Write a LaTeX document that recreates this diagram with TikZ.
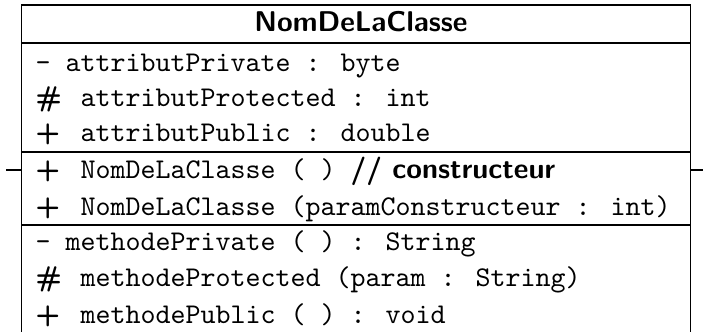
\documentclass[tikz,border=0pt]{standalone}
\usepackage{fontspec}
\def\kpriv{\makebox[10.5pt][l]{-}}
\def\kprot{\makebox[15.75pt][l]{\sffamily\bfseries\#}}
\def\kpub{\makebox[15.75pt][l]{\sffamily\bfseries+}}
\begin{document}
\begin{tikzpicture}[x=0.35pt,y=-0.35pt,
  membre/.style={anchor=base west,inner sep=0pt,font=\ttfamily},
  titre/.style={anchor=base,inner sep=0pt,font=\sffamily\bfseries},
  cadre/.style={line width=0.6pt}]
\useasboundingbox (0,0) rectangle (703,332);
\pgfmathsetmacro{\kleft}{21.5}
\pgfmathsetmacro{\kright}{690.5}
\pgfmathsetmacro{\ktop}{5.3}
\pgfmathsetmacro{\kpin}{15}
% cadre de la classe
\draw[cadre](\kleft,332)--(\kleft,\ktop)--(\kright,\ktop)--(\kright,332);
\foreach \ky in {42.7,152.3,225.3}{\draw[cadre](\kleft,\ky)--(\kright,\ky);}
\coordinate (pinL) at (\kleft-\kpin,170);
\coordinate (pinR) at (\kright+\kpin,170);
\draw[cadre](pinL)--(\kleft,170);
\draw[cadre](\kright,170)--(pinR);
% nom
\node[titre](nom) at (361,31.7){NomDeLaClasse};
% attributs
\foreach \ky/\ksym/\klb [count=\ki] in {71.5/\kpriv/{attributPrivate : byte},
  106.5/\kprot/{attributProtected : int},
  141.5/\kpub/{attributPublic : double}}{
  \node[membre](att\ki) at (35,\ky){\ksym\klb};}
% constructeurs
\node[membre](cons1) at (35,178){\kpub NomDeLaClasse ( ) \textsf{\bfseries// constructeur}};
\node[membre](cons2) at (35,215){\kpub NomDeLaClasse (paramConstructeur : int)};
% methodes
\foreach \ky/\ksym/\klb [count=\ki] in {250/\kpriv/{methodePrivate ( ) : String},
  286.5/\kprot/{methodeProtected (param : String)},
  323/\kpub/{methodePublic ( ) : void}}{
  \node[membre](meth\ki) at (35,\ky){\ksym\klb};}
\end{tikzpicture}
\end{document}
